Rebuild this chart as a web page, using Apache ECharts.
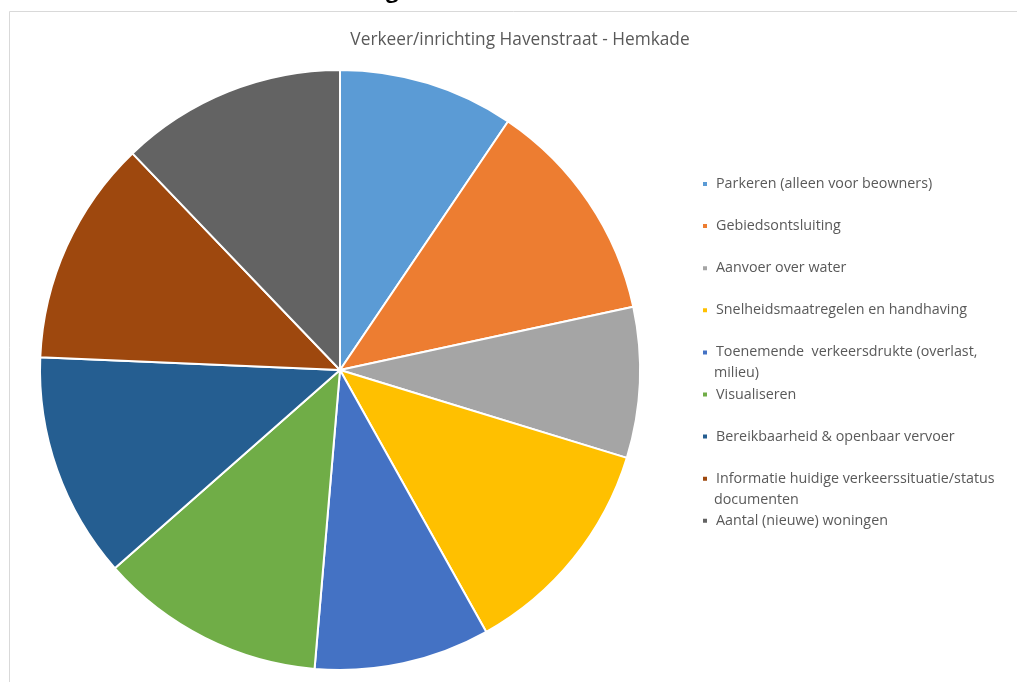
<!DOCTYPE html>
<html>
<head>
<meta charset="utf-8">
<script src="https://cdn.jsdelivr.net/npm/echarts@6/dist/echarts.min.js"></script>
<style>
html,body{margin:0;padding:0;background:#fff;}
#chart{width:1017px;height:682px;}
</style>
</head>
<body>
<div id="chart"></div>
<script>
const titleText = 'Verkeer/inrichting Havenstraat - Hemkade';
const categories = [
  'Parkeren (alleen voor beowners)',
  'Gebiedsontsluiting',
  'Aanvoer over water',
  'Snelheidsmaatregelen en handhaving',
  'Toenemende  verkeersdrukte (overlast, milieu)',
  'Visualiseren',
  'Bereikbaarheid & openbaar vervoer',
  'Informatie huidige verkeerssituatie/status documenten',
  'Aantal (nieuwe) woningen'
];
const values = [7, 9, 6, 9, 7, 9, 9, 9, 9];
const colors = ['#5B9BD5','#ED7D31','#A5A5A5','#FFC000','#4472C4','#70AD47','#255E91','#9E480E','#636363'];
// legend line breaks (first line / continuation)
const legendFirstLine = {
  'Toenemende  verkeersdrukte (overlast, milieu)': 'Toenemende  verkeersdrukte (overlast,',
  'Informatie huidige verkeerssituatie/status documenten': 'Informatie huidige verkeerssituatie/status'
};
const legendContinuation = [
  {text: 'milieu)', index: 4},
  {text: 'documenten', index: 7}
];

const FONT = '"Open Sans", sans-serif';
const LFS = 14.3;
const legendTop = 184;
const legendStep = 42.1;

const chart = echarts.init(document.getElementById('chart'));
const graphics = [
  {type:'rect', shape:{x:9.5, y:11.5, width:1100, height:700}, style:{fill:'none', stroke:'#d9d9d9', lineWidth:1}, silent:true},
  {type:'text', x:386, y:-19, style:{text:'g', font:'bold 22px "Open Sans", sans-serif', fill:'#000'}, silent:true}
];
legendContinuation.forEach(c => {
  graphics.push({type:'text', x:714, y: legendTop + c.index*legendStep + 21, style:{text:c.text, font:LFS+'px '+FONT, fill:'#595959', verticalAlign:'middle'}, silent:true});
});

chart.setOption({
  animation:false,
  color: colors,
  title:{text:titleText, left:515, top:27, textAlign:'center',
    textStyle:{fontFamily:FONT, fontSize:17.3, fontWeight:'normal', color:'#595959'}},
  legend:{
    orient:'vertical', left:696, top: legendTop - 15,
    icon:'rect', itemWidth:6, itemHeight:6, itemGap: legendStep - 20,
    data: categories,
    formatter: n => legendFirstLine[n] || n,
    textStyle:{fontFamily:FONT, fontSize:LFS, color:'#595959', lineHeight:20, height:20, padding:[0,0,0,3]}
  },
  graphic: graphics,
  series:[{
    type:'pie', center:[340,370], radius:[0,300], startAngle:90, clockwise:true,
    label:{show:false}, labelLine:{show:false},
    itemStyle:{borderColor:'#fff', borderWidth:2},
    emphasis:{disabled:true},
    data: categories.map((c,i)=>({name:c, value:values[i]}))
  }]
});
</script>
</body>
</html>
